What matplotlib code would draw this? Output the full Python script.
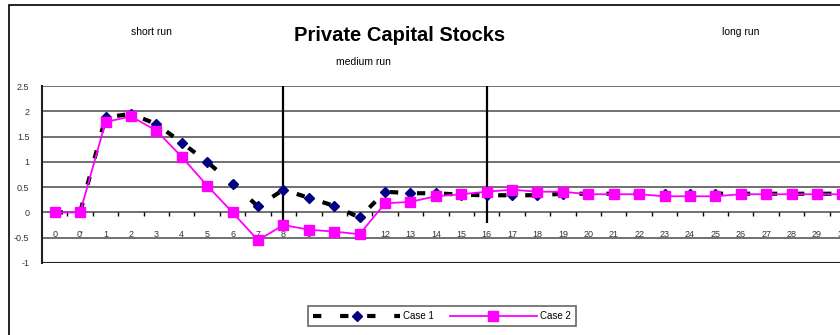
import matplotlib
matplotlib.use("Agg")
import matplotlib.pyplot as plt
from matplotlib.patches import Rectangle
import numpy as np

plt.rcParams['font.family'] = ['Liberation Sans', 'DejaVu Sans']

# category labels along the time axis
periods = ['0', "0'"] + [str(i) for i in range(1, 31)]

case1 = [0, 0, 1.88, 1.95, 1.75, 1.38, 1.0, 0.57, 0.12, 0.45,
         0.29, 0.13, -0.1, 0.41, 0.38, 0.38, 0.35, 0.34, 0.34, 0.34,
         0.37, 0.37, 0.37, 0.37, 0.37, 0.37, 0.37, 0.37, 0.37, 0.37,
         0.37, 0.37]
case2 = [0, 0, 1.79, 1.9, 1.62, 1.1, 0.53, 0.0, -0.55, -0.25,
         -0.34, -0.38, -0.43, 0.18, 0.21, 0.32, 0.36, 0.41, 0.45, 0.41,
         0.41, 0.36, 0.36, 0.36, 0.32, 0.32, 0.32, 0.36, 0.36, 0.36,
         0.36, 0.36]

# boundaries between short / medium / long run
phase_marks = ['8', '16']

yticks = [-1, -0.5, 0, 0.5, 1, 1.5, 2, 2.5]
ytick_labels = ['-1', '-0.5', '0', '0.5', '1', '1.5', '2', '2.5']

x = np.arange(len(periods))

fig = plt.figure(figsize=(8.4, 3.35), dpi=100)
ax = fig.add_axes([0.05, 0.215, 0.968, 0.528])

ax.set_xlim(-0.5, len(periods) - 0.5)
ax.set_ylim(-1, 2.5)

# horizontal gridlines
for yv in yticks:
    ax.axhline(yv, color='#707070', lw=1.4, zorder=1)
ax.axhline(-1, color='#202020', lw=1.5, zorder=2)

# category tick marks between categories on the zero line
ax.vlines(x[:-1] + 0.5, -0.08, 0, color='black', lw=1, zorder=2)
for xi, lab in zip(x, periods):
    ax.text(xi, -0.44, lab, ha='center', va='center', fontsize=6.5, color='#333333')

# phase separators
for p in phase_marks:
    ax.vlines(periods.index(p), -0.2, 2.5, color='black', lw=1.6, zorder=3)

ax.plot(x, case1, color='black', lw=3, dashes=(2, 4.5), marker='D', ms=5.5,
        markerfacecolor='#000080', markeredgecolor='#000080', label='Case 1', zorder=4)
ax.plot(x, case2, color='#ff00ff', lw=1.3, marker='s', ms=7,
        markerfacecolor='#ff00ff', markeredgecolor='#ff00ff', label='Case 2', zorder=5)

ax.set_xticks([])
ax.set_yticks(yticks)
ax.set_yticklabels(ytick_labels, fontsize=6.5, color='#333333')
ax.tick_params(axis='y', length=0, pad=9)
for s in ['top', 'right', 'bottom']:
    ax.spines[s].set_visible(False)
ax.spines['left'].set_color('#202020')
ax.spines['left'].set_linewidth(1.5)

# titles
fig.text(0.476, 0.895, 'Private Capital Stocks', ha='center', va='center',
         fontsize=14.5, fontweight='bold')
fig.text(0.18, 0.905, 'short run', ha='center', va='center', fontsize=7.5)
fig.text(0.882, 0.905, 'long run', ha='center', va='center', fontsize=7.5)
fig.text(0.433, 0.815, 'medium run', ha='center', va='center', fontsize=7.5)

leg = fig.legend(loc='center', bbox_to_anchor=(0.526, 0.057), ncol=2, fontsize=7,
                 handlelength=9, frameon=True, fancybox=False, edgecolor='#404040',
                 columnspacing=1.6, handletextpad=0.3, borderpad=0.5)
leg.get_frame().set_linewidth(1.2)

# outer chart frame
fig.patches.append(Rectangle((0.0107, -0.02), 1.1, 1.005, transform=fig.transFigure,
                             fill=False, edgecolor='black', lw=1.2))

fig.savefig('out.png', dpi=100)
